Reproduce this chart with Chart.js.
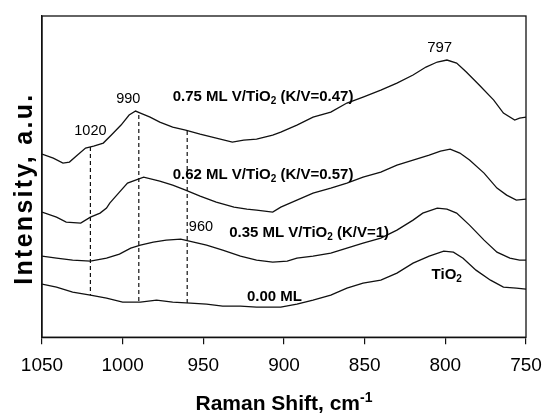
<!DOCTYPE html>
<html lang="en">
<head>
<meta charset="UTF-8">
<title>Raman spectra of V/TiO2</title>
<style>
  body { margin: 0; background: #fff; }
  #wrap { width: 545px; height: 414px; }
</style>
</head>
<body>
<div id="wrap"><canvas id="chart" width="545" height="414"></canvas></div>
<script src="https://cdn.jsdelivr.net/npm/chart.js"></script>
<script>
// Raman shift (cm-1) and stacked intensity (a.u.) of each sample
const shift075 = [1050,1043,1037,1033,1028,1023,1018,1012,1007,1001,996,992,989,983,977,969,961,952,942,932,925,917,907,902,892,882,871,861,851,840,830,820,812,805,799,793,787,779,770,764,757,754,750];
const int075   = [183,179,174,175,182,189,191,194,202,212,222,226,224,220,215,210,207,203,199,195,197,198,202,205,212,220,225,234,240,247,254,262,270,275,277,274,265,252,237,224,217,219,220];

const shift062 = [1050,1041,1035,1026,1020,1014,1010,1008,1002,997,992,987,977,969,961,952,942,931,923,917,907,902,892,882,871,861,851,840,830,820,810,803,797,791,785,776,768,762,756,750];
const int062   = [125,120,115,114,120,124,129,134,145,154,157,160,156,152,147,141,135,130,128,127,125,130,137,144,149,154,160,165,172,177,182,186,188,184,177,164,149,142,137,138];

const shift035 = [1050,1041,1031,1020,1010,1002,995,989,981,973,964,956,948,938,927,917,907,898,892,882,871,861,851,840,830,820,814,805,799,793,785,776,768,760,754,750];
const int035   = [81,79,77,76,79,83,89,92,95,97,98,95,92,87,81,77,75,76,79,81,84,89,94,99,107,117,124,129,128,124,112,97,85,79,77,77];

const shift000 = [1050,1041,1031,1020,1010,1000,989,979,969,958,948,938,927,917,907,902,892,882,871,861,851,840,830,820,810,801,795,789,781,772,764,756,750];
const int000   = [53,50,45,42,39,35,35,37,35,34,33,31,31,30,30,30,33,37,42,49,54,57,64,74,81,86,85,79,67,57,50,49,48];

// band positions marked with dashed lines, and where each line starts/ends
const bandShift  = [1020, 990, 960];
const bandTop    = [190, 222, 206];
const bandBottom = [42, 35, 34];

const xTicks = [1050, 1000, 950, 900, 850, 800, 750];

const FONT = '"Liberation Sans", Arial, Helvetica, sans-serif';

function toPoints(xs, ys) {
  return xs.map((x, i) => ({ x: x, y: ys[i] }));
}

const spectra = [
  { label: '0.75 ML V/TiO2 (K/V=0.47)', data: toPoints(shift075, int075) },
  { label: '0.62 ML V/TiO2 (K/V=0.57)', data: toPoints(shift062, int062) },
  { label: '0.35 ML V/TiO2 (K/V=1)', data: toPoints(shift035, int035) },
  { label: '0.00 ML', data: toPoints(shift000, int000) }
].map(d => Object.assign(d, {
  borderColor: '#111',
  borderWidth: 1.3,
  pointRadius: 0,
  tension: 0,
  fill: false
}));

const bands = bandShift.map((s, i) => ({
  label: s + ' band',
  data: [{ x: s, y: bandTop[i] }, { x: s, y: bandBottom[i] }],
  borderColor: '#111',
  borderWidth: 1.2,
  borderDash: [4, 3],
  pointRadius: 0,
  fill: false
}));

// draw a run of text pieces; 'sub' and 'sup' pieces are smaller and shifted
function drawRich(ctx, parts, x, y, size, bold, align) {
  const weight = bold ? 'bold ' : '';
  const small = Math.round(size * 0.65);
  let total = 0;
  parts.forEach(p => {
    ctx.font = weight + (p[1] ? small : size) + 'px ' + FONT;
    total += ctx.measureText(p[0]).width;
  });
  let cx = align === 'center' ? x - total / 2 : x;
  ctx.textAlign = 'left';
  parts.forEach(p => {
    ctx.font = weight + (p[1] ? small : size) + 'px ' + FONT;
    let dy = 0;
    if (p[1] === 'sub') dy = size * 0.3;
    if (p[1] === 'sup') dy = -size * 0.4;
    ctx.fillText(p[0], cx, y + dy);
    cx += ctx.measureText(p[0]).width;
  });
}

const notes = [
  { at: [969, 240], parts: [['0.75 ML V/TiO'], ['2', 'sub'], [' (K/V=0.47)']], size: 15, bold: true },
  { at: [969, 162], parts: [['0.62 ML V/TiO'], ['2', 'sub'], [' (K/V=0.57)']], size: 15, bold: true },
  { at: [934, 104], parts: [['0.35 ML V/TiO'], ['2', 'sub'], [' (K/V=1)']], size: 15, bold: true },
  { at: [923, 40], parts: [['0.00 ML']], size: 15, bold: true },
  { at: [808.5, 62], parts: [['TiO'], ['2', 'sub']], size: 15, bold: true },
  { at: [1020, 206], parts: [['1020']], size: 14.5, align: 'center' },
  { at: [996.5, 238], parts: [['990']], size: 14.5, align: 'center' },
  { at: [959, 110], parts: [['960']], size: 14.5 },
  { at: [803.5, 289], parts: [['797']], size: 15, align: 'center' }
];

const decorations = {
  id: 'decorations',
  afterDraw(chart) {
    const ctx = chart.ctx;
    const area = chart.chartArea;
    const xs = chart.scales.x;
    const ys = chart.scales.y;
    ctx.save();
    ctx.strokeStyle = '#111';
    ctx.lineWidth = 1.3;
    ctx.strokeRect(area.left, area.top, area.right - area.left, area.bottom - area.top);

    ctx.fillStyle = '#000';
    ctx.textBaseline = 'middle';
    notes.forEach(n => {
      drawRich(ctx, n.parts, xs.getPixelForValue(n.at[0]), ys.getPixelForValue(n.at[1]),
        n.size, n.bold, n.align);
    });

    // axis titles
    ctx.textBaseline = 'alphabetic';
    drawRich(ctx, [['Raman Shift, cm'], ['-1', 'sup']], (area.left + area.right) / 2, 410, 21, true, 'center');

    ctx.translate(32, (area.top + area.bottom) / 2 + 12);
    ctx.rotate(-Math.PI / 2);
    ctx.letterSpacing = '2.3px';
    drawRich(ctx, [['Intensity, a.u.']], 0, 0, 25, true, 'center');
    ctx.restore();
  }
};

new Chart(document.getElementById('chart'), {
  type: 'line',
  data: { datasets: spectra.concat(bands) },
  options: {
    responsive: false,
    animation: false,
    devicePixelRatio: 1,
    layout: { padding: { left: 42, right: 19, top: 16, bottom: 27 } },
    plugins: {
      legend: { display: false },
      tooltip: { enabled: false }
    },
    scales: {
      x: {
        type: 'linear',
        reverse: true,
        min: 750,
        max: 1050,
        afterBuildTicks: scale => { scale.ticks = xTicks.map(v => ({ value: v })); },
        // end labels fit inside the outer padding, so no extra room is reserved
        afterFit: scale => { scale.paddingLeft = 0; scale.paddingRight = 0; },
        ticks: {
          color: '#000',
          padding: 10,
          maxRotation: 0,
          font: { family: FONT, size: 19 },
          callback: v => String(v)
        },
        grid: {
          drawOnChartArea: false,
          drawTicks: true,
          tickLength: 7,
          color: '#111',
          lineWidth: 1.2
        },
        border: { display: true, color: '#111', width: 1.3 }
      },
      y: {
        min: 0,
        max: 321,
        // unlabelled axis: only its border line is drawn
        afterFit: scale => { scale.width = 0; },
        ticks: { display: false },
        grid: { display: false },
        border: { display: true, color: '#111', width: 1.3 }
      }
    }
  },
  plugins: [decorations]
});
</script>
</body>
</html>
